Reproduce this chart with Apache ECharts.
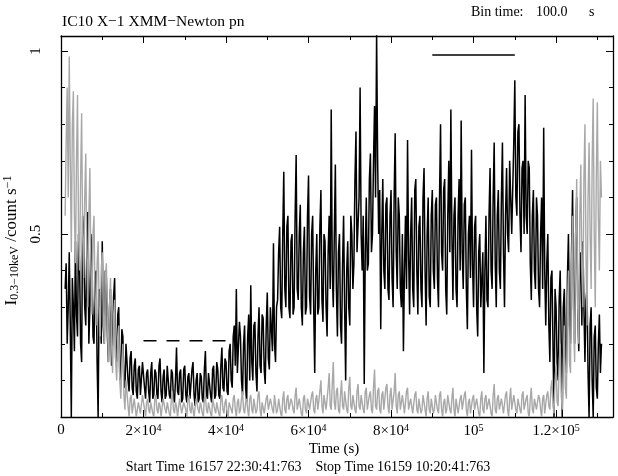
<!DOCTYPE html>
<html>
<head>
<meta charset="utf-8">
<script src="https://cdn.jsdelivr.net/npm/echarts@6/dist/echarts.min.js"></script>
<style>
  html, body { margin: 0; padding: 0; background: #fff; }
  #chart { width: 618px; height: 476px; }
</style>
</head>
<body>
<div id="chart"></div>
<script>
// light curve, re-read every 250 s from the picture (first bin at 1000 s)
const binStart = 1000;
const binStep = 250;

// black curve, one row = 5000 s
const blackRate = [
  0.35, 0.42, 0.2, 0.3, 0.45, 0.25, 0.0, 0.38, 0.3, 0.18, 0.48, 0.28, 0.22, 0.5, 0.42, 0.2, 0.15, 0.55, 0.5, 0.3,
  0.25, 0.45, 0.56, 0.2, 0.3, 0.5, 0.45, 0.22, 0.2, 0.38, 0.4, 0.15, 0.0, 0.35, 0.3, 0.2, 0.48, 0.25, 0.2, 0.4,
  0.38, 0.22, 0.15, 0.3, 0.35, 0.14, 0.2, 0.33, 0.38, 0.16, 0.15, 0.28, 0.3, 0.1, 0.12, 0.24, 0.22, 0.09, 0.08, 0.2,
  0.2, 0.1, 0.07, 0.16, 0.18, 0.08, 0.06, 0.14, 0.16, 0.07, 0.05, 0.13, 0.14, 0.06, 0.06, 0.15, 0.15, 0.08, 0.05, 0.12,
  0.13, 0.07, 0.04, 0.12, 0.15, 0.05, 0.06, 0.13, 0.12, 0.06, 0.05, 0.14, 0.16, 0.07, 0.04, 0.11, 0.13, 0.05, 0.06, 0.14,
  0.14, 0.06, 0.05, 0.13, 0.12, 0.05, 0.04, 0.1, 0.19, 0.07, 0.06, 0.12, 0.13, 0.04, 0.05, 0.13, 0.14, 0.06, 0.04, 0.11,
  0.12, 0.05, 0.05, 0.13, 0.15, 0.06, 0.03, 0.1, 0.12, 0.04, 0.05, 0.12, 0.11, 0.05, 0.04, 0.13, 0.18, 0.06, 0.05, 0.12,
  0.12, 0.06, 0.04, 0.13, 0.14, 0.05, 0.06, 0.15, 0.13, 0.06, 0.05, 0.14, 0.19, 0.08, 0.07, 0.16, 0.15, 0.07, 0.06, 0.18,
  0.2, 0.1, 0.08, 0.22, 0.25, 0.14, 0.35, 0.12, 0.12, 0.26, 0.22, 0.1, 0.06, 0.2, 0.25, 0.08, 0.04, 0.22, 0.28, 0.1,
  0.36, 0.15, 0.1, 0.25, 0.26, 0.12, 0.07, 0.22, 0.3, 0.14, 0.12, 0.28, 0.27, 0.13, 0.09, 0.25, 0.34, 0.16, 0.13, 0.3,
  0.3, 0.18, 0.475, 0.2, 0.15, 0.3, 0.32, 0.45, 0.52, 0.3, 0.27, 0.5, 0.67, 0.35, 0.3, 0.52, 0.55, 0.3, 0.27, 0.48,
  0.5, 0.28, 0.3, 0.55, 0.716, 0.35, 0.32, 0.5, 0.58, 0.3, 0.25, 0.45, 0.52, 0.28, 0.3, 0.55, 0.66, 0.33, 0.28, 0.5,
  0.55, 0.3, 0.12, 0.4, 0.5, 0.28, 0.3, 0.52, 0.62, 0.32, 0.26, 0.5, 0.48, 0.3, 0.22, 0.45, 0.55, 0.35, 0.84, 0.4,
  0.3, 0.5, 0.69, 0.35, 0.22, 0.45, 0.5, 0.25, 0.2, 0.42, 0.55, 0.3, 0.1, 0.4, 0.48, 0.3, 0.25, 0.55, 0.5, 0.35,
  0.42, 0.65, 0.78, 0.45, 0.45, 0.6, 0.9, 0.5, 0.4, 0.55, 0.09, 0.45, 0.6, 0.4, 0.42, 0.65, 0.72, 0.45, 0.5, 0.7,
  0.85, 0.6, 1.05, 0.7, 0.5, 0.62, 0.24, 0.5, 0.65, 0.4, 0.35, 0.58, 0.6, 0.35, 0.32, 0.55, 0.62, 0.38, 0.3, 0.6,
  0.775, 0.45, 0.35, 0.6, 0.55, 0.35, 0.3, 0.5, 0.18, 0.4, 0.55, 0.35, 0.757, 0.45, 0.28, 0.5, 0.6, 0.35, 0.3, 0.62,
  0.65, 0.4, 0.28, 0.52, 0.55, 0.35, 0.3, 0.6, 0.68, 0.4, 0.25, 0.5, 0.6, 0.33, 0.3, 0.55, 0.62, 0.4, 0.35, 0.58,
  0.6, 0.38, 0.3, 0.6, 0.8, 0.45, 0.4, 0.62, 0.65, 0.35, 0.28, 0.55, 0.7, 0.45, 0.84, 0.5, 0.32, 0.55, 0.6, 0.35,
  0.3, 0.55, 0.65, 0.4, 0.81, 0.45, 0.35, 0.58, 0.6, 0.35, 0.24, 0.5, 0.55, 0.38, 0.73, 0.42, 0.3, 0.52, 0.55, 0.3,
  0.22, 0.45, 0.5, 0.3, 0.3, 0.45, 0.12, 0.4, 0.55, 0.32, 0.3, 0.55, 0.68, 0.4, 0.35, 0.6, 0.75, 0.42, 0.3, 0.55,
  0.62, 0.4, 0.35, 0.6, 0.75, 0.45, 0.3, 0.55, 0.68, 0.5, 0.45, 0.7, 0.7, 0.5, 0.5, 0.75, 0.92, 0.6, 0.55, 0.78,
  0.8, 0.55, 0.45, 0.68, 0.7, 0.5, 0.88, 0.55, 0.5, 0.7, 0.68, 0.42, 0.32, 0.55, 0.62, 0.4, 0.35, 0.6, 0.55, 0.35,
  0.3, 0.5, 0.6, 0.35, 0.79, 0.4, 0.25, 0.42, 0.5, 0.25, 0.15, 0.38, 0.4, 0.2, 0.0, 0.35, 0.3, 0.15, 0.1, 0.32,
  0.4, 0.2, 0.0, 0.3, 0.35, 0.18, 0.12, 0.38, 0.5, 0.25, 0.2, 0.45, 0.62, 0.3, 0.2, 0.5, 0.6, 0.3, 0.18, 0.4,
  0.45, 0.25, 0.48, 0.3, 0.15, 0.32, 0.35, 0.12, 0.0, 0.25, 0.3, 0.1, 0.0, 0.22, 0.25, 0.08, 0.05, 0.2, 0.28, 0.12,
  0.2
];

// grey curve, one row = 5000 s
const greyRate = [
  0.55, 0.75, 0.9, 0.6, 0.985, 0.7, 0.45, 0.8, 0.89, 0.55, 0.42, 0.7, 0.88, 0.5, 0.4, 0.65, 0.83, 0.5, 0.38, 0.6,
  0.72, 0.45, 0.3, 0.55, 0.68, 0.4, 0.28, 0.5, 0.55, 0.32, 0.25, 0.42, 0.48, 0.3, 0.22, 0.4, 0.45, 0.28, 0.2, 0.38,
  0.42, 0.25, 0.15, 0.3, 0.38, 0.2, 0.12, 0.28, 0.32, 0.15, 0.1, 0.22, 0.25, 0.1, 0.05, 0.15, 0.2, 0.06, 0.02, 0.1,
  0.1, 0.03, 0.0, 0.05, 0.06, 0.01, 0.01, 0.05, 0.05, 0.0, 0.0, 0.04, 0.04, 0.01, 0.01, 0.06, 0.06, 0.02, 0.0, 0.04,
  0.05, 0.02, 0.01, 0.04, 0.04, 0.01, 0.0, 0.05, 0.06, 0.02, 0.01, 0.04, 0.03, 0.0, 0.0, 0.05, 0.05, 0.02, 0.01, 0.04,
  0.04, 0.01, 0.0, 0.05, 0.07, 0.02, 0.01, 0.04, 0.03, 0.0, 0.0, 0.05, 0.05, 0.01, 0.01, 0.04, 0.04, 0.02, 0.0, 0.05,
  0.06, 0.02, 0.01, 0.04, 0.04, 0.0, 0.0, 0.05, 0.05, 0.02, 0.01, 0.04, 0.03, 0.01, 0.0, 0.05, 0.06, 0.02, 0.01, 0.04,
  0.04, 0.01, 0.0, 0.05, 0.05, 0.02, 0.01, 0.04, 0.04, 0.01, 0.0, 0.05, 0.06, 0.02, 0.01, 0.04, 0.05, 0.01, 0.0, 0.04,
  0.04, 0.02, 0.01, 0.05, 0.06, 0.02, 0.0, 0.04, 0.05, 0.01, 0.02, 0.05, 0.07, 0.02, 0.01, 0.04, 0.05, 0.02, 0.0, 0.05,
  0.06, 0.02, 0.01, 0.05, 0.05, 0.01, 0.02, 0.06, 0.07, 0.02, 0.0, 0.04, 0.04, 0.01, 0.01, 0.05, 0.06, 0.02, 0.02, 0.05,
  0.05, 0.02, 0.01, 0.06, 0.06, 0.01, 0.02, 0.05, 0.05, 0.01, 0.0, 0.05, 0.07, 0.02, 0.01, 0.05, 0.06, 0.02, 0.02, 0.05,
  0.04, 0.02, 0.01, 0.06, 0.08, 0.02, 0.02, 0.05, 0.05, 0.01, 0.0, 0.05, 0.06, 0.02, 0.01, 0.05, 0.05, 0.02, 0.02, 0.06,
  0.07, 0.02, 0.01, 0.05, 0.06, 0.02, 0.02, 0.07, 0.1, 0.03, 0.01, 0.06, 0.06, 0.02, 0.02, 0.08, 0.12, 0.03, 0.02, 0.09,
  0.15, 0.04, 0.02, 0.07, 0.08, 0.02, 0.01, 0.06, 0.1, 0.03, 0.02, 0.07, 0.07, 0.02, 0.01, 0.08, 0.11, 0.03, 0.02, 0.06,
  0.06, 0.02, 0.01, 0.07, 0.09, 0.03, 0.02, 0.06, 0.06, 0.02, 0.01, 0.07, 0.08, 0.02, 0.02, 0.06, 0.07, 0.02, 0.01, 0.08,
  0.13, 0.03, 0.02, 0.07, 0.08, 0.02, 0.01, 0.06, 0.07, 0.02, 0.02, 0.08, 0.09, 0.03, 0.01, 0.06, 0.08, 0.02, 0.02, 0.07,
  0.12, 0.03, 0.01, 0.06, 0.07, 0.02, 0.02, 0.06, 0.06, 0.01, 0.01, 0.07, 0.08, 0.02, 0.02, 0.05, 0.05, 0.01, 0.01, 0.06,
  0.07, 0.02, 0.01, 0.05, 0.05, 0.01, 0.02, 0.06, 0.06, 0.02, 0.0, 0.05, 0.07, 0.02, 0.01, 0.05, 0.05, 0.01, 0.02, 0.06,
  0.06, 0.02, 0.01, 0.06, 0.07, 0.02, 0.0, 0.04, 0.05, 0.01, 0.02, 0.06, 0.06, 0.02, 0.01, 0.05, 0.08, 0.02, 0.0, 0.05,
  0.05, 0.01, 0.01, 0.05, 0.06, 0.02, 0.02, 0.06, 0.07, 0.02, 0.0, 0.04, 0.05, 0.01, 0.01, 0.05, 0.06, 0.02, 0.02, 0.05,
  0.05, 0.01, 0.0, 0.05, 0.07, 0.02, 0.01, 0.05, 0.06, 0.02, 0.02, 0.05, 0.05, 0.01, 0.0, 0.06, 0.09, 0.02, 0.01, 0.05,
  0.06, 0.02, 0.02, 0.05, 0.05, 0.01, 0.01, 0.06, 0.07, 0.02, 0.0, 0.05, 0.08, 0.02, 0.02, 0.06, 0.06, 0.02, 0.01, 0.05,
  0.05, 0.02, 0.01, 0.06, 0.07, 0.02, 0.02, 0.05, 0.06, 0.01, 0.0, 0.05, 0.08, 0.02, 0.01, 0.05, 0.05, 0.02, 0.02, 0.06,
  0.05, 0.02, 0.0, 0.05, 0.06, 0.01, 0.01, 0.06, 0.07, 0.03, 0.02, 0.08, 0.1, 0.03, 0.01, 0.1, 0.14, 0.04, 0.03, 0.15,
  0.2, 0.06, 0.02, 0.15, 0.25, 0.08, 0.05, 0.3, 0.4, 0.15, 0.12, 0.42, 0.55, 0.25, 0.15, 0.5, 0.65, 0.3, 0.2, 0.55,
  0.69, 0.4, 0.3, 0.65, 0.8, 0.45, 0.25, 0.6, 0.75, 0.5, 0.35, 0.7, 0.87, 0.5, 0.3, 0.65, 0.86, 0.55, 0.4, 0.7,
  0.6
];

// the two marker segments drawn in the plot
const dashSeg = [[20000, 0.208], [40000, 0.208]];
const solidSeg = [[90000, 0.989], [110000, 0.989]];

// tick labels
const xTickValues = [0, 20000, 40000, 60000, 80000, 100000, 120000];
const xTickText = ['0', '2×10{s|4}', '4×10{s|4}', '6×10{s|4}', '8×10{s|4}', '10{s|5}', '1.2×10{s|5}'];
const yTickValues = [0.5, 1];
const yTickText = ['0.5', '1'];

const xMax = 133800;
const yMax = 1.041;
const serif = '"Liberation Serif", "DejaVu Serif", serif';

const toPairs = arr => arr.map((v, i) => [binStart + i * binStep, v]);

const chart = echarts.init(document.getElementById('chart'), null, { renderer: 'canvas' });

const axisBase = {
    axisLine: { show: true, onZero: false, lineStyle: { color: '#000', width: 1.3 } },
    axisTick: { show: true, inside: true, length: 7, lineStyle: { color: '#000', width: 1 } },
    minorTick: { show: true, length: 4, lineStyle: { color: '#000', width: 1 } },
    splitLine: { show: false },
    minorSplitLine: { show: false }
};

const option = {
    animation: false,
    backgroundColor: '#fff',
    grid: { left: 61, top: 36, right: 5, bottom: 59, containLabel: false, outerBoundsMode: 'none' },
    xAxis: [
        Object.assign({}, axisBase, {
            type: 'value', min: 0, max: xMax, interval: 20000, position: 'bottom',
            minorTick: Object.assign({}, axisBase.minorTick, { splitNumber: 2 }),
            axisLabel: {
                margin: 6, color: '#000', fontFamily: serif, fontSize: 15,
                showMaxLabel: false,
                formatter: v => {
                    const k = xTickValues.indexOf(v);
                    return k >= 0 ? xTickText[k] : '';
                },
                rich: { s: { fontSize: 10, fontFamily: serif, color: '#000', verticalAlign: 'top', padding: [0, 0, 6, 0] } }
            }
        }),
        Object.assign({}, axisBase, {
            type: 'value', min: 0, max: xMax, interval: 20000, position: 'top',
            minorTick: Object.assign({}, axisBase.minorTick, { splitNumber: 2 }),
            axisLabel: { show: false }
        })
    ],
    yAxis: [
        Object.assign({}, axisBase, {
            type: 'value', min: 0, max: yMax, interval: 0.5, position: 'left',
            minorTick: Object.assign({}, axisBase.minorTick, { splitNumber: 5 }),
            axisLabel: {
                margin: 17, rotate: 90, color: '#000', fontFamily: serif, fontSize: 15,
                showMinLabel: false, showMaxLabel: false,
                formatter: v => {
                    const k = yTickValues.indexOf(v);
                    return k >= 0 ? yTickText[k] : '';
                }
            },
            name: 'I{sub|0.3−10keV} /count s{sup|−1}',
            nameLocation: 'middle',
            nameRotate: 90,
            nameGap: 36,
            nameTextStyle: {
                color: '#000', fontFamily: serif, fontSize: 17,
                padding: [0, 28, 0, 0],
                rich: {
                    sub: { fontSize: 12, fontFamily: serif, color: '#000', verticalAlign: 'bottom', padding: [7, 0, 0, 0] },
                    sup: { fontSize: 12, fontFamily: serif, color: '#000', verticalAlign: 'top', padding: [0, 0, 7, 0] }
                }
            }
        }),
        Object.assign({}, axisBase, {
            type: 'value', min: 0, max: yMax, interval: 0.5, position: 'right',
            minorTick: Object.assign({}, axisBase.minorTick, { splitNumber: 5 }),
            axisLabel: { show: false }
        })
    ],
    series: [
        {
            name: 'black', type: 'line', data: toPairs(blackRate),
            showSymbol: false, symbol: 'none', sampling: null, clip: true,
            lineStyle: { color: '#000', width: 1.5 }, z: 2
        },
        {
            name: 'grey', type: 'line', data: toPairs(greyRate),
            showSymbol: false, symbol: 'none', clip: true,
            lineStyle: { color: '#a8a8a8', width: 1.4 }, z: 3
        },
        {
            name: 'dash', type: 'line', data: dashSeg, showSymbol: false, symbol: 'none',
            lineStyle: { color: '#000', width: 1.5, type: [13, 10] }, z: 4
        },
        {
            name: 'solid', type: 'line', data: solidSeg, showSymbol: false, symbol: 'none',
            lineStyle: { color: '#000', width: 1.5 }, z: 4
        }
    ],
    graphic: [
        { type: 'text', style: { x: 62, y: 22, text: 'IC10 X−1 XMM−Newton pn', font: '15.5px ' + serif, fill: '#000', textVerticalAlign: 'middle' } },
        { type: 'text', style: { x: 471, y: 12, text: 'Bin time:', font: '14px ' + serif, fill: '#000', textVerticalAlign: 'middle' } },
        { type: 'text', style: { x: 536, y: 12, text: '100.0', font: '14px ' + serif, fill: '#000', textVerticalAlign: 'middle' } },
        { type: 'text', style: { x: 589, y: 12, text: 's', font: '14px ' + serif, fill: '#000', textVerticalAlign: 'middle' } },
        { type: 'text', style: { x: 334, y: 449, text: 'Time (s)', font: '15px ' + serif, fill: '#000', textAlign: 'center', textVerticalAlign: 'middle' } },
        { type: 'text', style: { x: 308, y: 467, text: 'Start Time 16157 22:30:41:763    Stop Time 16159 10:20:41:763', font: '14px ' + serif, fill: '#000', textAlign: 'center', textVerticalAlign: 'middle' } }
    ]
};

chart.setOption(option);
</script>
</body>
</html>
